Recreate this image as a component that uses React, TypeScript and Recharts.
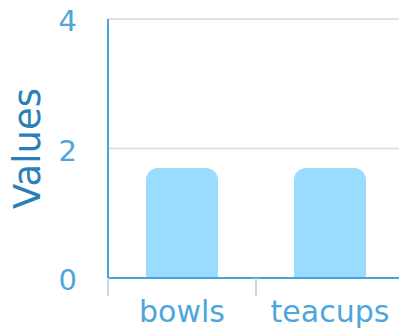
import React from 'react';
import { BarChart, Bar, XAxis, YAxis, CartesianGrid } from 'recharts';

const categories = ['bowls', 'teacups'];
const values = [1.7, 1.7];
const yTicks = [0, 2, 4];

const data = categories.map((name, i) => ({ name, value: values[i] }));

const TICK_COLOR = '#4ea6dc';
const AXIS_COLOR = '#4aa3d8';
const X_TICK_SIZE = 18;
const X_TICK_MARGIN = 5;

const YLabel = ({ viewBox }: any) => {
  const cx = viewBox.x + 27;
  const cy = viewBox.y + viewBox.height / 2;
  return (
    <text
      x={cx}
      y={cy}
      transform={`rotate(-90, ${cx}, ${cy})`}
      textAnchor="middle"
      dominantBaseline="central"
      fill="#2a7fb8"
      fontSize={37}
    >
      Values
    </text>
  );
};

// tick lines sit on the band boundaries, labels in the middle
const XTick = ({ x, y, payload }: any) => {
  const half = payload.offset || 0;
  const top = y - X_TICK_MARGIN - X_TICK_SIZE;
  return (
    <g>
      <line x1={x - half} x2={x - half} y1={top} y2={top + X_TICK_SIZE} stroke="#ccd6e6" strokeWidth={2} />
      <text x={x} y={y} dy="0.71em" textAnchor="middle" fill={TICK_COLOR} fontSize={30}>
        {payload.value}
      </text>
    </g>
  );
};

const YTick = ({ x, y, payload }: any) => (
  <text x={x} y={y} dy={12} textAnchor="end" fill={TICK_COLOR} fontSize={29}>
    {payload.value}
  </text>
);

export default function App() {
  return (
    <div style={{ position: 'absolute', left: 0, top: 0, fontFamily: 'DejaVu Sans' }}>
      <BarChart
        width={404}
        height={328}
        data={data}
        margin={{ top: 19, right: 0, bottom: 0, left: 0 }}
      >
        <CartesianGrid vertical={false} stroke="#e2e2e2" strokeWidth={2} />
        <XAxis
          dataKey="name"
          height={50}
          axisLine={{ stroke: AXIS_COLOR, strokeWidth: 2 }}
          tickLine={false}
          tickSize={X_TICK_SIZE}
          tickMargin={X_TICK_MARGIN}
          tick={<XTick />}
          interval={0}
        />
        <YAxis
          width={108}
          domain={[0, 4]}
          ticks={yTicks}
          axisLine={{ stroke: AXIS_COLOR, strokeWidth: 2 }}
          tickLine={false}
          tickSize={0}
          tickMargin={31}
          tick={<YTick />}
          label={<YLabel />}
        />
        <Bar
          dataKey="value"
          fill="#99dcff"
          barSize={72}
          radius={[12, 12, 0, 0]}
          isAnimationActive={false}
        />
      </BarChart>
    </div>
  );
}
